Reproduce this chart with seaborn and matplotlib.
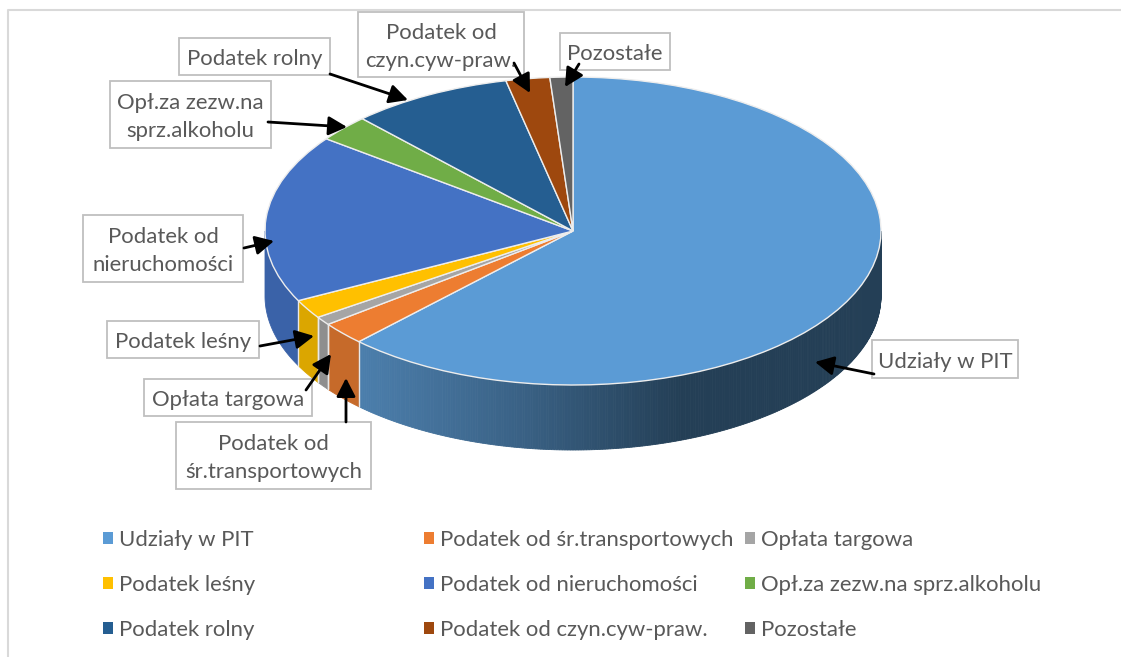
import numpy as np
import seaborn as sns
import matplotlib
matplotlib.use("Agg")
import matplotlib.pyplot as plt
from matplotlib.patches import Patch, Rectangle

categories = ["Udziały w PIT", "Podatek od śr.transportowych", "Opłata targowa",
              "Podatek leśny", "Podatek od nieruchomości", "Opł.za zezw.na sprz.alkoholu",
              "Podatek rolny", "Podatek od czyn.cyw-praw.", "Pozostałe"]
shares = [62.3, 2.4, 0.9, 2.0, 17.7, 2.8, 8.5, 2.3, 1.2]
colors = ["#5B9BD5", "#ED7D31", "#A5A5A5", "#FFC000", "#4472C4",
          "#70AD47", "#255E91", "#9E480E", "#636363"]
wall_colors = ["#243F56", "#C66A2A", "#8E8E8E", "#DBA600", "#3A62A8",
               "#5F9339", "#1F4F7B", "#863D0C", "#545454"]

# box text, box (x0, y0, x1, y1), arrow tail, arrow head, in picture pixels
callouts = [
    ("Udziały w PIT", (872, 340, 1018, 378), (874, 374), (815, 362)),
    ("Podatek od\nśr.transportowych", (176, 422, 371, 489), (346, 422), (346, 378)),
    ("Opłata targowa", (144, 379, 312, 416), (306, 390), (331, 354)),
    ("Podatek leśny", (107, 321, 259, 358), (260, 346), (314, 336)),
    ("Podatek od\nnieruchomości", (83, 215, 243, 282), (244, 248), (274, 241)),
    ("Opł.za zezw.na\nsprz.alkoholu", (110, 81, 271, 148), (268, 122), (347, 127)),
    ("Podatek rolny", (179, 38, 330, 75), (330, 74), (408, 100)),
    ("Podatek od\nczyn.cyw-praw.", (358, 12, 524, 77), (514, 63), (530, 93)),
    ("Pozostałe", (560, 33, 670, 70), (579, 64), (565, 87)),
]

W, H = 1121, 657
CX, CY, RX, RY = 573, 231, 308, 154
DEPTH = 65 / RY
TEXT = "#595959"
FS = 15.9

sns.set_theme(style="white")
plt.rcParams["font.family"] = ["Lato", "DejaVu Sans"]

fig = plt.figure(figsize=(W / 100, H / 100), dpi=100)

# pie axes: one data unit is RX across and RY down, that makes the tilted disc
ax = fig.add_axes([0, 0, 1, 1])
ax.pie(shares, colors=sns.color_palette(colors), startangle=90, counterclock=False,
       wedgeprops={"edgecolor": "#EDEDED", "linewidth": 1, "zorder": 5})
ax.set_aspect("auto")
ax.set_xlim(-CX / RX, (W - CX) / RX)
ax.set_ylim((CY - H) / RY, CY / RY)
ax.set_axis_off()


def wall(a0, a1, color, edge=None):
    t = np.radians(np.linspace(a0, a1, max(int(a1 - a0) * 2, 2)))
    x = np.sin(t)
    y = np.cos(t)
    ax.fill(np.r_[x, x[::-1]], np.r_[y, y[::-1] - DEPTH], color=color, lw=0.6, zorder=2)
    if edge:
        for i in (0, -1):
            ax.plot([x[i], x[i]], [y[i], y[i] - DEPTH], color=edge, lw=1, zorder=3)


# side walls, only the front half of the disc shows
ends = np.cumsum(shares) / np.sum(shares) * 360
starts = np.r_[0, ends[:-1]]
ramp = sns.blend_palette(["#4C7FAD", "#3A6286", "#243F56"], 256)
for i, (a0, a1) in enumerate(zip(starts, ends)):
    a0 = max(a0, 90)
    a1 = min(a1, 270)
    if a1 <= a0:
        continue
    if i == 0:
        # first slice fades from dark on the right to lighter on the left
        steps = np.arange(a0, a1, 0.5)
        for s in steps:
            px = CX + RX * np.sin(np.radians(s))
            k = np.clip((px - 357) / (680 - 357), 0, 1)
            wall(s, min(s + 0.5, a1), ramp[int(k * 255)])
    else:
        wall(a0, a1, wall_colors[i], edge="#E8E8E8" if i < 4 else None)

# overlay in picture pixels for the frame, boxes and arrows
ov = fig.add_axes([0, 0, 1, 1])
ov.set_xlim(0, W)
ov.set_ylim(H, 0)
ov.set_axis_off()
ov.patch.set_alpha(0)

ov.plot([8, 8, W], [H, 10, 10], color="#D9D9D9", lw=1.5, zorder=1)

for label, box, tail, head in callouts:
    x0, y0, x1, y1 = box
    ov.add_patch(Rectangle((x0, y0), x1 - x0, y1 - y0, facecolor="white",
                           edgecolor="#BFBFBF", lw=1.3, zorder=3))
    ov.text((x0 + x1) / 2, (y0 + y1) / 2 + 2.5, label, ha="center", va="center",
            color=TEXT, fontsize=FS, linespacing=1.55, zorder=4)
    ov.annotate("", xy=head, xytext=tail, zorder=5,
                arrowprops=dict(arrowstyle="-|>,head_length=0.7,head_width=0.36", color="black",
                                lw=2, shrinkA=0, shrinkB=0, mutation_scale=16))

# legend is filled row by row, one matplotlib legend per column keeps the columns fixed
for col, x in enumerate((103, 424, 745)):
    handles = [Patch(facecolor=colors[i], edgecolor="none", label=categories[i])
               for i in range(col, len(categories), 3)]
    leg = ov.legend(handles=handles, loc="center left",
                    bbox_to_anchor=(x, 585), bbox_transform=ov.transData,
                    frameon=False, fontsize=FS, labelcolor=TEXT,
                    handlelength=0.45, handleheight=0.45, handletextpad=0.27,
                    labelspacing=1.12, borderpad=0, borderaxespad=0)
    # ov.legend keeps the last one itself, adding it again would draw it twice
    if col < 2:
        ov.add_artist(leg)

fig.savefig("out.png", dpi=100)
